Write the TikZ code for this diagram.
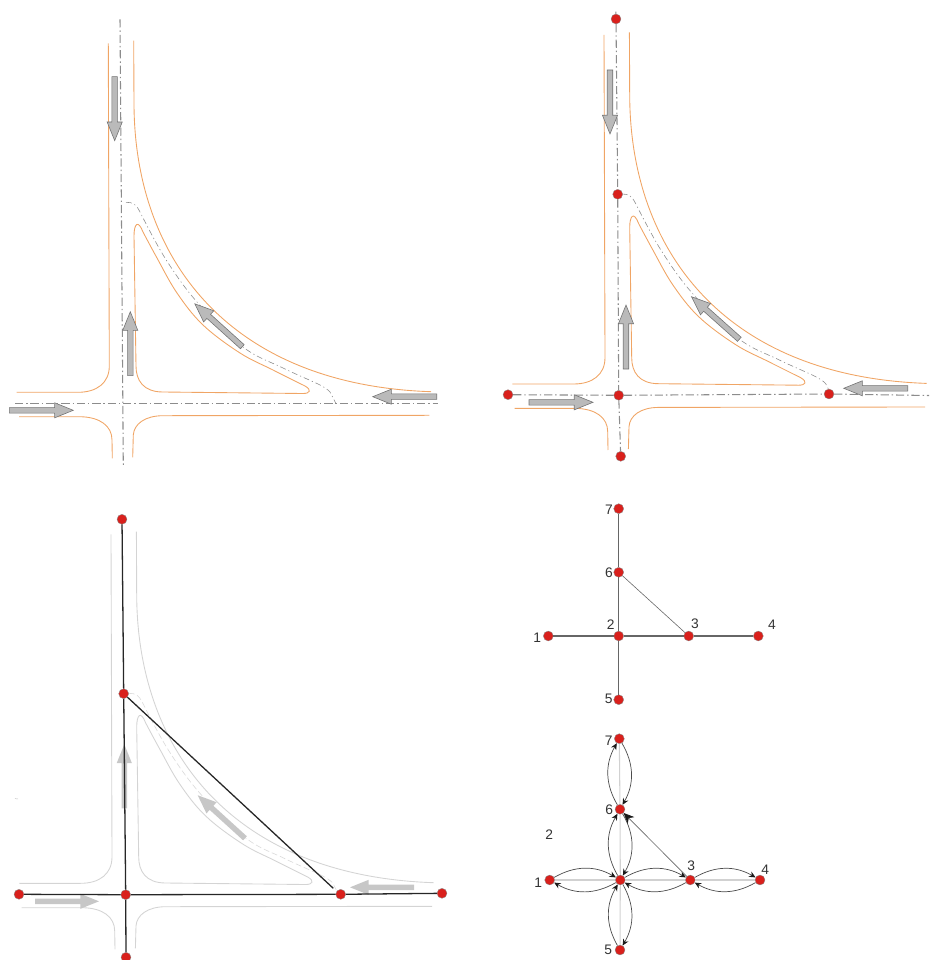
\documentclass[tikz,border=0pt]{standalone}
\usepackage{fontspec}
\setmainfont{Liberation Sans}
\usetikzlibrary{arrows.meta,shapes.arrows}

\definecolor{roadorange}{HTML}{F0A565}
\definecolor{dotred}{HTML}{D9201C}

\newcommand{\roadedges}{%
    \draw[edgeline] (108.3,43.3) -- (109.3,366) .. controls (109.3,383) and (96.7,392.3) .. (78,392.3) -- (16.7,392.3);
    \draw[edgeline] (133.7,40.7) -- (134,105) .. controls (135,260) and (230,385) .. (431,391.7);
    \draw[edgeline] (136,366) -- (134,236) .. controls (134,224) and (138,219) .. (143,232) -- plot[smooth, tension=0.6] coordinates {(143,232) (157,258) (177,293) (203,325) (240,353) (273,370) (305,386)} .. controls (312,390) and (310,393.5) .. (303,393.5) -- (163,392) .. controls (143,392) and (136,380) .. (136,366) -- cycle;
    \draw[edgeline] (19,416.7) -- (80,416.7) .. controls (100,417) and (112,426) .. (112,440) -- (112.3,458.3);
    \draw[edgeline] (132.7,457.3) -- (133.3,435) .. controls (134,424) and (145,415.7) .. (163,415.7) -- (429.3,415.3);
}
\newcommand{\roadbranch}{%
    \draw[branchline] (126,202.3) .. controls (133,202.3) and (136,204) .. (140,212) -- plot[smooth, tension=0.6] coordinates {(140,212) (165,258) (197,302) (243,347) (283,368) (320,385) (330,392)} -- (336,403.7);
}

\begin{document}
\begin{tikzpicture}[
    x=0.03cm, y=-0.03cm,
    >={Stealth[length=5.5pt,width=5pt,color=black!90]},
    edgeline/.style={draw=roadorange, line width=0.75pt},
    branchline/.style={draw=black!45, line width=0.5pt, dash pattern=on 5pt off 2.5pt on 1pt off 2.5pt},
    centerline/.style={draw=black!45, line width=0.9pt, dash pattern=on 7pt off 2.5pt on 1.2pt off 2.5pt},
    roadarrow/.style={single arrow, draw=black!55, fill=black!27, line width=0.5pt, inner xsep=0pt, inner ysep=2.1pt, outer sep=0pt, minimum height=54.6pt, minimum width=12.5pt, single arrow head extend=4.1pt, single arrow tip angle=44, anchor=tail},
    palearrow/.style={roadarrow, draw=none, fill=black!22},
    roaddot/.style={circle, draw=black!45, fill=dotred, line width=0.3pt, inner sep=0pt, minimum size=8.5pt},
    numlabel/.style={font=\fontsize{11.8pt}{13pt}\selectfont, text=black!80, inner sep=0pt},
    graphline/.style={draw=black!60, line width=0.9pt},
    faintline/.style={draw=black!18, line width=0.9pt},
    linkarrow/.style={->, draw=black!70, line width=0.6pt, bend left=30},
]

\useasboundingbox (0,0) rectangle (929,960);

% plan without points
\roadedges
\roadbranch
\draw[centerline] (120,19.3) -- (123.3,466.7);
\draw[centerline] (15,403.7) -- (438.3,403.7);
\node[roadarrow, rotate=-90] (plandown) at (114.7,76.7) {};
\node[roadarrow, rotate=90] (planup) at (130.3,375.7) {};
\node[roadarrow, rotate=137.9] (planramp) at (242.3,346.7) {};
\node[roadarrow, rotate=180] (planleft) at (436.7,396.7) {};
\node[roadarrow] (planright) at (9.3,410.3) {};

% plan with points
\begin{scope}[shift={(495.7,-8.3)}]
\roadedges
\roadbranch
\end{scope}
\node[roaddot] (ptop) at (616,19) {};
\node[roaddot] (pupper) at (617.7,194.3) {};
\node[roaddot] (pcross) at (618.7,395.3) {};
\node[roaddot] (pbottom) at (620.7,456.3) {};
\node[roaddot] (pleft) at (508,394.7) {};
\node[roaddot] (pright) at (829,394) {};
\coordinate (ptopend) at (615.8,11.7);
\coordinate (prightend) at (929,395.5);
\draw[centerline] (ptopend) -- (ptop);
\draw[centerline] (ptop) -- (pupper);
\draw[centerline] (pupper) -- (pcross);
\draw[centerline] (pcross) -- (pbottom);
\draw[centerline] (pleft) -- (pcross);
\draw[centerline] (pcross) -- (pright);
\draw[centerline] (pright) -- (prightend);
\node[roadarrow, rotate=-90] (pdown) at (610,70) {};
\node[roadarrow, rotate=90] (pup) at (626,369) {};
\node[roadarrow, rotate=138.3] (pramp) at (739.3,339.3) {};
\node[roadarrow, rotate=180] (pback) at (907.7,388.3) {};
\node[roadarrow] (pforward) at (529,402.3) {};

% plan with links
\begin{scope}[shift={(2.7,491)}, edgeline/.style={draw=black!17, line width=0.75pt}, branchline/.style={draw=black!15, line width=0.5pt, dash pattern=on 5pt off 2.5pt}]
\roadedges
\roadbranch
\end{scope}
\node[palearrow, rotate=90] (lup) at (124.3,808.3) {};
\node[palearrow, rotate=137.7] (lramp) at (245,838.3) {};
\node[palearrow, rotate=180] (lback) at (414,887.3) {};
\node[palearrow] (lforward) at (35,901.3) {};
\draw[draw=black!25, line width=0.4pt] (15,798.6) -- (18,799);
\node[roaddot] (ltop) at (122,519.3) {};
\node[roaddot] (lupper) at (123.7,693.7) {};
\node[roaddot] (lcross) at (125.7,894.7) {};
\node[roaddot] (lbottom) at (126,957.3) {};
\node[roaddot] (lleft) at (19,894.3) {};
\node[roaddot] (lmid) at (340.7,894.3) {};
\node[roaddot] (lright) at (442,893.3) {};
\coordinate (lrampend) at (333.3,888.3);
\draw[draw=black!85, line width=1.1pt] (ltop) -- (lupper);
\draw[draw=black!85, line width=1.1pt] (lupper) -- (lcross);
\draw[draw=black!85, line width=1.1pt] (lcross) -- (lbottom);
\draw[draw=black!85, line width=1.1pt] (lleft) -- (lcross);
\draw[draw=black!85, line width=1.1pt] (lcross) -- (lmid);
\draw[draw=black!85, line width=1.1pt] (lmid) -- (lright);
\draw[draw=black!85, line width=1.1pt] (lupper) -- (lrampend);

% graph
\node[roaddot] (gseven) at (618.7,508.7) {};
\node[roaddot] (gsix) at (618.7,572.3) {};
\node[roaddot] (gtwo) at (618.7,636) {};
\node[roaddot] (gthree) at (688.7,636) {};
\node[roaddot] (gfour) at (758.3,636) {};
\node[roaddot] (gone) at (548.3,636) {};
\node[roaddot] (gfive) at (618.7,699.7) {};
\node[numlabel] (gsevenlabel) at (609,509.3) {7};
\node[numlabel] (gsixlabel) at (609,573) {6};
\node[numlabel] (gtwolabel) at (610.7,625) {2};
\node[numlabel] (gthreelabel) at (695,623.3) {3};
\node[numlabel] (gfourlabel) at (772,625) {4};
\node[numlabel] (gonelabel) at (537.3,637.7) {1};
\node[numlabel] (gfivelabel) at (608.7,699.3) {5};
\draw[graphline] (gseven) -- (gsix);
\draw[graphline] (gsix) -- (gtwo);
\draw[graphline] (gtwo) -- (gfive);
\draw[graphline] (gone) -- (gtwo);
\draw[graphline] (gtwo) -- (gthree);
\draw[graphline] (gthree) -- (gfour);
\draw[graphline, line width=0.5pt] (gsix) -- (gthree);

% directed graph
\node[roaddot] (fseven) at (619.3,738.7) {};
\node[roaddot] (fsix) at (620,809.3) {};
\node[roaddot] (ftwo) at (620.3,880) {};
\node[roaddot] (fthree) at (690.3,880) {};
\node[roaddot] (ffour) at (760,880) {};
\node[roaddot] (fone) at (549.7,880) {};
\node[roaddot] (ffive) at (620,950) {};
\node[numlabel] (fsevenlabel) at (608.7,741) {7};
\node[numlabel] (fsixlabel) at (609.3,809.3) {6};
\node[numlabel] (ftwolabel) at (549.3,835) {2};
\node[numlabel] (fthreelabel) at (691.3,866) {3};
\node[numlabel] (ffourlabel) at (765.3,869.7) {4};
\node[numlabel] (fonelabel) at (538.3,882.7) {1};
\node[numlabel] (ffivelabel) at (608.3,950) {5};
\draw[faintline] (fseven) -- (fsix);
\draw[faintline] (fsix) -- (ftwo);
\draw[faintline] (ftwo) -- (ffive);
\draw[faintline] (fone) -- (ftwo);
\draw[faintline] (ftwo) -- (fthree);
\draw[faintline] (fthree) -- (ffour);
\draw[linkarrow] (fsix) to (fseven);
\draw[linkarrow] (fseven) to (fsix);
\draw[linkarrow] (ftwo) to (fsix);
\draw[linkarrow] (fsix) to (ftwo);
\draw[linkarrow] (ffive) to (ftwo);
\draw[linkarrow] (ftwo) to (ffive);
\draw[linkarrow] (fone) to (ftwo);
\draw[linkarrow] (ftwo) to (fone);
\draw[linkarrow] (ftwo) to (fthree);
\draw[linkarrow] (fthree) to (ftwo);
\draw[linkarrow] (fthree) to (ffour);
\draw[linkarrow] (ffour) to (fthree);
\draw[-{Stealth[length=9pt,width=8pt,color=black!90]}, draw=black!60, line width=0.55pt] (fthree) -- (fsix);

\end{tikzpicture}
\end{document}
